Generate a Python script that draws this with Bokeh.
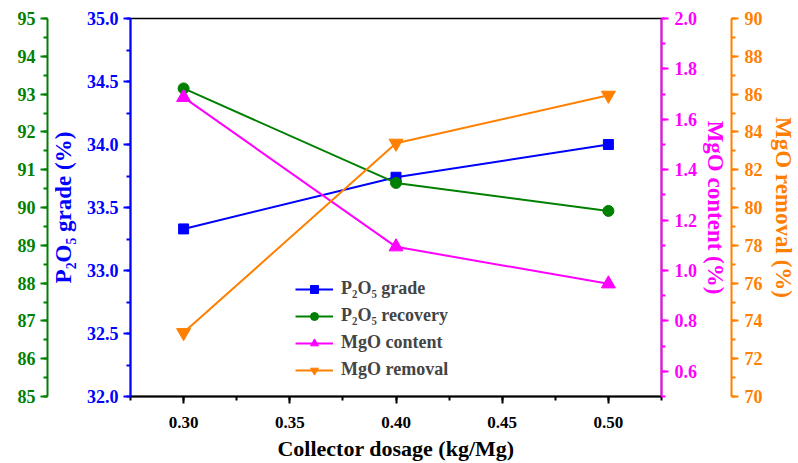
from bokeh.plotting import figure
from bokeh.models import (Range1d, LinearAxis, SingleIntervalTicker, NumeralTickFormatter,
                          Legend, LegendItem, FixedTicker)
from bokeh.embed import file_html
from bokeh.resources import INLINE

# ---- data ----
dosage = [0.30, 0.40, 0.50]
p2o5_grade = [33.33, 33.74, 34.00]
p2o5_recovery = [93.15, 90.65, 89.91]
mgo_content = [1.687, 1.094, 0.947]
mgo_removal = [73.38, 83.40, 85.94]

x_label = "Collector dosage (kg/Mg)"
grade_label = "P\u2082O\u2085 grade (%)"
content_label = "MgO content (%)"
removal_label = "MgO removal (%)"
legend_names = ["P\u2082O\u2085 grade", "P\u2082O\u2085 recovery", "MgO content", "MgO removal"]

BLUE = "#0000FF"
GREEN = "#008000"
MAGENTA = "#FF00FF"
ORANGE = "#FF8000"
FONT = "Liberation Serif"

p = figure(width=798, height=463, x_range=Range1d(0.275, 0.525), y_range=Range1d(32.0, 35.0),
           output_backend="svg", toolbar_location=None,
           min_border_top=18, min_border_left=130, min_border_right=135, min_border_bottom=66)
p.extra_y_ranges = {"green": Range1d(85, 95), "magenta": Range1d(0.5, 2.0), "orange": Range1d(70, 90)}
p.xgrid.visible = False
p.ygrid.visible = False
p.outline_line_color = "black"
p.outline_line_width = 1.5
p.background_fill_color = "white"
p.border_fill_color = "white"


def style_axis(ax, color, size="18px"):
    ax.axis_line_color = color
    ax.axis_line_width = 2
    ax.major_tick_line_color = color
    ax.minor_tick_line_color = color
    ax.major_tick_line_width = 2
    ax.minor_tick_line_width = 2
    ax.major_tick_in = 0
    ax.major_tick_out = 7
    ax.minor_tick_in = 0
    ax.minor_tick_out = 4
    ax.major_label_text_color = color
    ax.major_label_text_font = FONT
    ax.major_label_text_font_style = "bold"
    ax.major_label_text_font_size = size
    ax.axis_label_text_color = color
    ax.axis_label_text_font = FONT
    ax.axis_label_text_font_style = "bold"
    ax.axis_label_text_font_size = "23px"
    ax.major_label_standoff = 2


# x axis
xa = p.xaxis[0]
style_axis(xa, "black", "17px")
xa.ticker = SingleIntervalTicker(interval=0.05, num_minor_ticks=2)
xa.formatter = NumeralTickFormatter(format="0.00")
xa.axis_label = x_label
xa.axis_label_text_font_size = "22px"
xa.major_label_standoff = 13
xa.axis_label_standoff = 5

# blue (primary) left axis
ya = p.yaxis[0]
style_axis(ya, BLUE)
ya.ticker = SingleIntervalTicker(interval=0.5, num_minor_ticks=2)
ya.formatter = NumeralTickFormatter(format="0.0")
ya.axis_label = grade_label
ya.major_label_standoff = 5
ya.axis_label_standoff = 8

# spacer on the left
sp_l = LinearAxis(axis_line_color=None, major_tick_line_color=None, minor_tick_line_color=None,
                  major_label_text_font_size="0px", major_tick_out=15, minor_tick_out=0,
                  major_label_standoff=0, ticker=FixedTicker(ticks=[]))
p.add_layout(sp_l, "left")

# green outer left axis
ga = LinearAxis(y_range_name="green")
style_axis(ga, GREEN)
ga.ticker = SingleIntervalTicker(interval=1, num_minor_ticks=2)
ga.formatter = NumeralTickFormatter(format="0")
ga.major_label_standoff = 5
p.add_layout(ga, "left")

# magenta right axis
ma = LinearAxis(y_range_name="magenta")
style_axis(ma, MAGENTA)
ma.ticker = SingleIntervalTicker(interval=0.2, num_minor_ticks=2)
ma.formatter = NumeralTickFormatter(format="0.0")
ma.axis_label = content_label
ma.axis_label_standoff = 3
ma.major_label_standoff = 6
p.add_layout(ma, "right")

sp_r = LinearAxis(axis_line_color=None, major_tick_line_color=None, minor_tick_line_color=None,
                  major_label_text_font_size="0px", major_tick_out=5, minor_tick_out=0,
                  major_label_standoff=0, ticker=FixedTicker(ticks=[]))
p.add_layout(sp_r, "right")

# orange outer right axis
oa = LinearAxis(y_range_name="orange")
style_axis(oa, ORANGE)
oa.ticker = SingleIntervalTicker(interval=2, num_minor_ticks=2)
oa.formatter = NumeralTickFormatter(format="0")
oa.axis_label = removal_label
oa.axis_label_standoff = 5
oa.major_label_standoff = 6
p.add_layout(oa, "right")

# series
l1 = p.line(dosage, p2o5_grade, line_color=BLUE, line_width=2)
m1 = p.scatter(dosage, p2o5_grade, marker="square", size=10, fill_color=BLUE, line_color=BLUE)
l2 = p.line(dosage, p2o5_recovery, y_range_name="green", line_color=GREEN, line_width=2)
m2 = p.scatter(dosage, p2o5_recovery, y_range_name="green", marker="circle", size=11,
               fill_color=GREEN, line_color=GREEN)
l3 = p.line(dosage, mgo_content, y_range_name="magenta", line_color=MAGENTA, line_width=2)
m3 = p.scatter(dosage, mgo_content, y_range_name="magenta", marker="triangle", size=14,
               fill_color=MAGENTA, line_color=MAGENTA)
l4 = p.line(dosage, mgo_removal, y_range_name="orange", line_color=ORANGE, line_width=2)
m4 = p.scatter(dosage, mgo_removal, y_range_name="orange", marker="inverted_triangle", size=14,
               fill_color=ORANGE, line_color=ORANGE)

legend = Legend(items=[LegendItem(label=legend_names[0], renderers=[l1, m1]),
                       LegendItem(label=legend_names[1], renderers=[l2, m2]),
                       LegendItem(label=legend_names[2], renderers=[l3, m3]),
                       LegendItem(label=legend_names[3], renderers=[l4, m4])],
                location=(165, 16), glyph_width=38, glyph_height=20, label_height=20,
                spacing=6, padding=0, margin=0, label_standoff=8,
                border_line_color=None, background_fill_alpha=0,
                label_text_font=FONT, label_text_font_style="bold", label_text_font_size="18px")
p.add_layout(legend, "center")

open("out.html", "w").write(file_html(p, INLINE))
